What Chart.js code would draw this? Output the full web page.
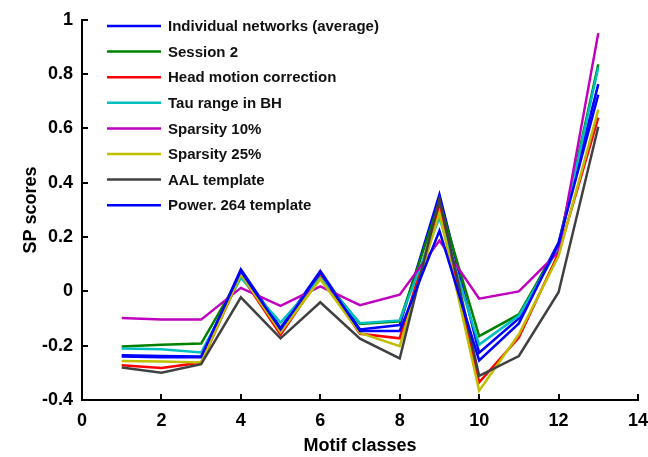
<!DOCTYPE html>
<html>
<head>
<meta charset="utf-8">
<script src="https://cdn.jsdelivr.net/npm/chart.js@4/dist/chart.umd.min.js"></script>
<style>
  html, body { margin: 0; padding: 0; background: #fff; }
  #wrap { width: 648px; height: 457px; }
</style>
</head>
<body>
<div id="wrap"><canvas id="c" width="648" height="457"></canvas></div>
<script>
// Motif classes on the x axis
const motifClasses = [1, 2, 3, 4, 5, 6, 7, 8, 9, 10, 11, 12, 13];

// SP scores per motif class for each analysis variant
const individualAvg = [-0.240, -0.243, -0.243, 0.081, -0.135, 0.075, -0.140, -0.124, 0.357, -0.226, -0.100, 0.180, 0.763];
const session2      = [-0.203, -0.197, -0.192, 0.060, -0.140, 0.060, -0.120, -0.110, 0.330, -0.165, -0.085, 0.170, 0.836];
const headMotion    = [-0.272, -0.282, -0.262, 0.060, -0.160, 0.055, -0.156, -0.173, 0.310, -0.335, -0.170, 0.140, 0.640];
const tauRange      = [-0.210, -0.213, -0.225, 0.050, -0.115, 0.050, -0.117, -0.107, 0.272, -0.196, -0.090, 0.160, 0.824];
const sparsity10    = [-0.098, -0.104, -0.104, 0.013, -0.053, 0.018, -0.051, -0.012, 0.187, -0.027, 0.000, 0.145, 0.951];
const sparsity25    = [-0.256, -0.258, -0.262, 0.063, -0.150, 0.045, -0.153, -0.202, 0.290, -0.366, -0.158, 0.130, 0.669];
const aalTemplate   = [-0.280, -0.300, -0.268, -0.022, -0.173, -0.040, -0.174, -0.247, 0.340, -0.311, -0.238, -0.003, 0.606];
const powerTemplate = [-0.235, -0.238, -0.240, 0.075, -0.140, 0.070, -0.146, -0.146, 0.223, -0.254, -0.118, 0.175, 0.724];

const seriesNames = [
  'Individual networks (average)',
  'Session 2',
  'Head motion correction',
  'Tau range in BH',
  'Sparsity 10%',
  'Sparsity 25%',
  'AAL template',
  'Power. 264 template'
];
const seriesValues = [individualAvg, session2, headMotion, tauRange, sparsity10, sparsity25, aalTemplate, powerTemplate];
const seriesColors = ['#0000FF', '#008000', '#FF0000', '#00BFBF', '#BF00BF', '#BFBF00', '#404040', '#0000FF'];

// Axis ticks
const xTicks = [0, 2, 4, 6, 8, 10, 12, 14];
const yTicks = [-0.4, -0.2, 0, 0.2, 0.4, 0.6, 0.8, 1];

const FONT = 'Liberation Sans, Arial, Helvetica, sans-serif';

const datasets = seriesNames.map((name, i) => ({
  label: name,
  data: motifClasses.map((x, j) => ({ x: x, y: seriesValues[i][j] })),
  borderColor: seriesColors[i],
  backgroundColor: seriesColors[i],
  borderWidth: 2.5,
  pointRadius: 0,
  tension: 0,
  fill: false,
  // later series are painted over earlier ones
  order: seriesNames.length - i
}));

// Inward tick marks on the left and bottom axes
const inwardTicks = {
  id: 'inwardTicks',
  afterDraw(chart) {
    const ctx = chart.ctx;
    const xs = chart.scales.x, ys = chart.scales.y;
    const area = chart.chartArea;
    ctx.save();
    ctx.strokeStyle = '#000';
    ctx.lineWidth = 2;
    xTicks.forEach(v => {
      const px = Math.round(xs.getPixelForValue(v));
      ctx.beginPath();
      ctx.moveTo(px, area.bottom);
      ctx.lineTo(px, area.bottom - 6);
      ctx.stroke();
    });
    yTicks.forEach(v => {
      const py = Math.round(ys.getPixelForValue(v));
      ctx.beginPath();
      ctx.moveTo(area.left, py);
      ctx.lineTo(area.left + 6, py);
      ctx.stroke();
    });
    ctx.restore();
  }
};

// Legend drawn inside the plot area, upper left
const innerLegend = {
  id: 'innerLegend',
  afterDraw(chart) {
    const ctx = chart.ctx;
    const x0 = 107, x1 = 161, tx = 168, top = 26, step = 25.6;
    ctx.save();
    ctx.font = 'bold 15px ' + FONT;
    ctx.textBaseline = 'middle';
    ctx.textAlign = 'left';
    chart.data.datasets.forEach((ds, i) => {
      const y = top + i * step;
      ctx.strokeStyle = ds.borderColor;
      ctx.lineWidth = 2.5;
      ctx.beginPath();
      ctx.moveTo(x0, y);
      ctx.lineTo(x1, y);
      ctx.stroke();
      ctx.fillStyle = '#111';
      ctx.fillText(ds.label, tx, y + 1);
    });
    ctx.restore();
  }
};

new Chart(document.getElementById('c'), {
  type: 'line',
  data: { datasets },
  options: {
    responsive: false,
    animation: false,
    layout: { padding: { top: 15, right: 0, left: 0, bottom: 0 } },
    plugins: { legend: { display: false }, tooltip: { enabled: false } },
    scales: {
      x: {
        type: 'linear',
        min: 0,
        max: 14,
        afterBuildTicks: s => { s.ticks = xTicks.map(v => ({ value: v })); },
        afterFit: s => { s.height = 57; s.paddingRight = 10; },
        grid: { display: false, drawTicks: false },
        border: { display: true, color: '#000', width: 2 },
        ticks: {
          color: '#000',
          padding: 10,
          font: { family: FONT, size: 18, weight: 'bold' },
          callback: v => String(v)
        },
        title: {
          display: true,
          text: 'Motif classes',
          color: '#000',
          font: { family: FONT, size: 18, weight: 'bold' },
          padding: { top: 0, bottom: 0 }
        }
      },
      y: {
        min: -0.4,
        max: 1,
        afterBuildTicks: s => { s.ticks = yTicks.map(v => ({ value: v })); },
        afterFit: s => { s.width = 82; },
        grid: { display: false, drawTicks: false },
        border: { display: true, color: '#000', width: 2 },
        ticks: {
          color: '#000',
          padding: 9,
          font: { family: FONT, size: 18, weight: 'bold' },
          callback: v => String(Number(v.toFixed(1)))
        },
        title: {
          display: true,
          text: 'SP scores',
          color: '#000',
          font: { family: FONT, size: 18, weight: 'bold' },
          padding: { top: 20, bottom: 0 }
        }
      }
    }
  },
  plugins: [inwardTicks, innerLegend]
});
</script>
</body>
</html>
